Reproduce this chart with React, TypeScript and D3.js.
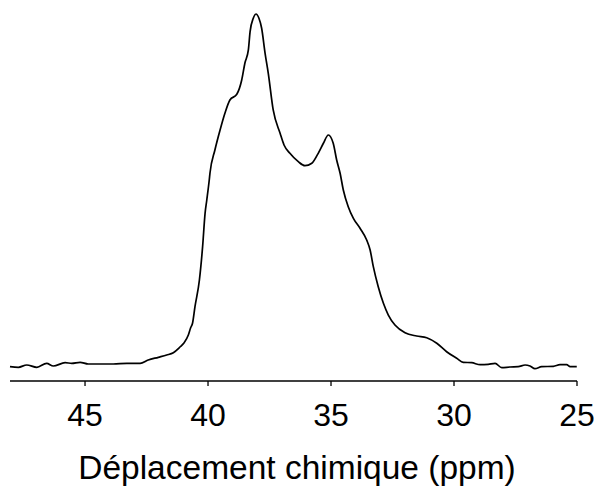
import React from "react";
import * as d3 from "d3";

const ppm: number[] = [
  48.05, 47.71, 47.37, 46.96, 46.56, 46.29, 45.81, 45.54, 45.2, 44.87, 44.39, 43.85, 43.3, 42.76,
  42.43, 42.02, 41.68, 41.41, 41.14, 40.98, 40.8, 40.71, 40.63, 40.53, 40.35, 40.22, 40.12, 40.05,
  39.95, 39.92, 39.72, 39.51, 39.31, 39.11, 38.83, 38.63, 38.5, 38.36, 38.29, 38.16, 38.05, 37.93,
  37.82, 37.68, 37.55, 37.35, 37.07, 36.91, 36.67, 36.33, 36.06, 35.78, 35.52, 35.31, 35.11, 34.91,
  34.77, 34.63, 34.5, 34.3, 34.09, 33.82, 33.55, 33.41, 33.28, 33.08, 32.87, 32.67, 32.4, 31.99,
  31.52, 31.11, 30.7, 30.3, 29.89, 29.62, 29.28, 28.94, 28.61, 28.33, 28.06, 27.72, 27.39, 27.11,
  26.91, 26.71, 26.44, 25.96, 25.69, 25.42, 25.28, 25.01,
];

const intensity: number[] = [
  0.37, 0.2, 0.85, 0.2, 1.33, 0.56, 1.5, 1.33, 1.61, 1.13, 1.13, 1.13, 1.33, 1.33,
  2.26, 3.02, 3.67, 4.32, 5.93, 7.06, 9.32, 11.3, 12.63, 17.32, 24.86, 34.27, 43.7, 47.46,
  53.11, 55.09, 61.59, 67.24, 72.04, 75.71, 77.32, 81.36, 86.16, 89.84, 95.0, 98.79, 100, 98.79,
  95.97, 88.9, 83.25, 72.89, 66.3, 63.0, 60.65, 58.28, 57.15, 57.83, 60.65, 63.48, 65.82, 63.48,
  58.76, 55.0, 50.29, 45.57, 42.29, 39.47, 36.16, 33.34, 28.62, 22.97, 18.28, 14.97, 12.15, 9.97,
  9.04, 8.56, 6.98, 4.6, 2.74, 1.61, 1.5, 0.93, 1.05, 1.33, 0.08, 0.28, 0.37, 0.85,
  0.56, -0.2, 0.37, 0.48, 0.93, 0.93, 0.37, 0.37,
];

const tickValues: number[] = [45, 40, 35, 30, 25];
const xTitle = "Déplacement chimique (ppm)";

export default function App() {
  const width = 594;
  const height = 488;
  const axisY = 381;

  const x = d3.scaleLinear().domain([48.05, 25]).range([10, 577]);
  const y = d3.scaleLinear().domain([0, 100]).range([368, 14]);

  const data = ppm.map((p, i) => ({ p, v: intensity[i] }));
  const line = d3
    .line<{ p: number; v: number }>()
    .x((d) => x(d.p))
    .y((d) => y(d.v))
    .curve(d3.curveMonotoneX);

  const font = "Arial, 'Liberation Sans', Helvetica, sans-serif";

  return (
    <svg
      width={width}
      height={height}
      style={{ position: "absolute", left: 0, top: 0, background: "#fff" }}
    >
      <path d={line(data) || ""} fill="none" stroke="#000" strokeWidth={1.7} strokeLinejoin="round" />
      <line x1={x(48.05)} x2={x(25)} y1={axisY} y2={axisY} stroke="#000" strokeWidth={1.3} />
      {tickValues.map((t) => (
        <g key={t}>
          <line x1={x(t)} x2={x(t)} y1={axisY} y2={axisY + 5} stroke="#000" strokeWidth={1.3} />
          <text
            x={x(t)}
            y={426}
            textAnchor="middle"
            fontFamily={font}
            fontSize={32}
            fill="#000"
          >
            {t}
          </text>
        </g>
      ))}
      <text x={297} y={479} textAnchor="middle" fontFamily={font} fontSize={33.5} fill="#000">
        {xTitle}
      </text>
    </svg>
  );
}
